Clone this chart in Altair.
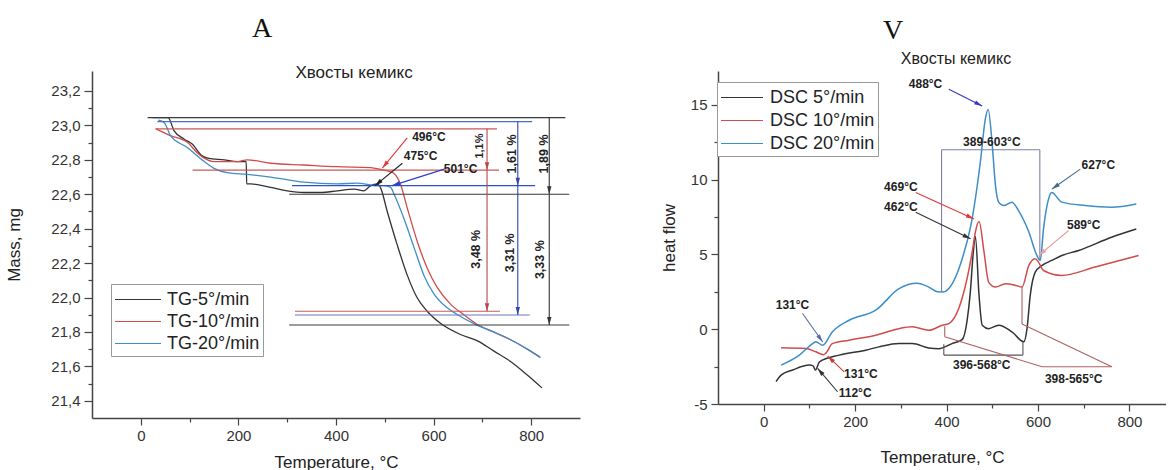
import math
import altair as alt
import pandas as pd

# ---------------- data ----------------
# Panel A : TG curves (Temperature, °C ; Mass, mg)
TG5_T = [24, 56, 68, 89, 106, 123, 137, 171, 198, 216, 217, 225, 266, 300, 334, 368, 403, 437, 457, 471, 485,
         491, 505, 525, 546, 566, 587, 614, 655, 689, 723, 757, 792, 822]
TG5_M = [23.045, 23.045, 22.97, 22.92, 22.89, 22.83, 22.81, 22.80, 22.79, 22.79, 22.66, 22.66, 22.64, 22.62, 22.61,
         22.61, 22.62, 22.63, 22.62, 22.65, 22.66, 22.64, 22.50, 22.31, 22.13, 22.00, 21.92, 21.85, 21.785, 21.75,
         21.69, 21.63, 21.55, 21.475]
TG10_T = [31, 61, 96, 116, 130, 150, 198, 218, 266, 334, 403, 471, 491, 512, 519, 532, 546, 566, 587, 607, 635,
          662, 689, 723, 757, 792, 818]
TG10_M = [22.98, 22.94, 22.90, 22.84, 22.81, 22.79, 22.79, 22.80, 22.78, 22.77, 22.76, 22.755, 22.745, 22.73, 22.72,
          22.66, 22.52, 22.33, 22.17, 22.06, 21.96, 21.90, 21.845, 21.80, 21.756, 21.70, 21.655]
TG20_T = [36, 48, 61, 96, 130, 150, 177, 218, 266, 334, 403, 443, 485, 498, 512, 519, 539, 560, 580, 601, 628,
          655, 689, 723, 757, 792, 819]
TG20_M = [23.03, 23.016, 22.94, 22.87, 22.79, 22.75, 22.725, 22.715, 22.70, 22.67, 22.66, 22.665, 22.65, 22.65,
          22.64, 22.60, 22.46, 22.29, 22.13, 22.02, 21.94, 21.89, 21.84, 21.80, 21.756, 21.70, 21.65]

# Panel V : DSC curves (Temperature, °C ; heat flow)
DSC5_T = [27, 38, 63, 100, 108, 113, 122, 165, 223, 252, 296, 325, 361, 383, 412, 434, 445, 452, 458, 463, 471,
          478, 492, 514, 543, 569, 576, 583, 594, 609, 630, 652, 689, 761, 815]
DSC5_H = [-3.5, -3.07, -2.73, -2.4, -2.45, -2.73, -2.18, -1.73, -1.4, -1.18, -0.96, -0.96, -1.25, -1.3, -0.96,
          -0.7, 0.6, 2.5, 5.0, 6.2, 2.27, 0.27, 0.04, 0.27, -0.18, -0.84, 0.04, 2.27, 3.82, 4.27, 4.6, 4.93, 5.27,
          6.15, 6.7]
DSC10_T = [38, 92, 114, 131, 136, 150, 187, 245, 296, 325, 361, 391, 405, 434, 456, 463, 471, 482, 492, 507, 529,
           551, 565, 580, 594, 601, 612, 652, 725, 820]
DSC10_H = [-1.24, -1.29, -1.51, -1.7, -1.6, -0.96, -0.73, -0.4, 0.04, 0.16, -0.07, 0.27, 0.38, 2.07, 5.15, 6.5,
           7.2, 5.15, 3.15, 2.82, 3.04, 2.93, 2.82, 4.27, 4.71, 4.49, 3.93, 3.6, 4.16, 4.93]
DSC20_T = [38, 78, 107, 114, 129, 150, 187, 245, 296, 335, 361, 380, 391, 405, 434, 456, 474, 485, 491, 500, 507,
           514, 525, 543, 558, 580, 598, 605, 612, 623, 630, 652, 703, 761, 815]
DSC20_H = [-2.4, -1.73, -0.96, -0.84, -1.07, -0.18, 0.6, 1.27, 2.71, 3.07, 2.82, 2.5, 2.49, 2.73, 4.7, 7.4, 11.2,
           14.1, 14.7, 12.3, 9.6, 8.5, 8.27, 8.5, 7.9, 6.5, 4.9, 4.6, 6.7, 8.7, 9.15, 8.5, 8.27, 8.16, 8.38]

TG_NAMES = ["TG-5°/min", "TG-10°/min", "TG-20°/min"]
DSC_NAMES = ["DSC 5°/min", "DSC 10°/min", "DSC 20°/min"]
SERIES_COLORS = ["#333333", "#d24b4b", "#3d8ec8"]

# Axis tick values
A_Y_MAJOR = ["21,4", "21,6", "21,8", "22,0", "22,2", "22,4", "22,6", "22,8", "23,0", "23,2"]
A_Y_TICKS = [21.4, 21.5, 21.6, 21.7, 21.8, 21.9, 22.0, 22.1, 22.2, 22.3, 22.4, 22.5, 22.6, 22.7, 22.8, 22.9,
             23.0, 23.1, 23.2]
X_TICKS = [0, 100, 200, 300, 400, 500, 600, 700, 800]
V_Y_TICKS = [-5, -2.5, 0, 2.5, 5, 7.5, 10, 12.5, 15]

# Panel A reference lines: (x1, y1, x2, y2, colour)
A_LINES = [
    (14, 23.045, 870, 23.045, "#3a3a3a"),
    (34, 23.022, 802, 23.022, "#4a6fc0"),
    (30, 22.98, 730, 22.98, "#c85a5a"),
    (106, 22.74, 734, 22.74, "#c85a5a"),
    (310, 22.65, 808, 22.65, "#3050c8"),
    (304, 22.60, 878, 22.60, "#3a3a3a"),
    (316, 21.92, 736, 21.92, "#c85a5a"),
    (316, 21.898, 797, 21.898, "#6a78c0"),
    (304, 21.84, 878, 21.84, "#3a3a3a"),
]
# Panel A arrows: (x1, y1, x2, y2, colour) head at (x2, y2)
A_ARROWS = [
    (709.5, 22.98, 709.5, 22.74, "#b84848"),
    (709.5, 22.74, 709.5, 21.92, "#b84848"),
    (772.5, 23.022, 772.5, 22.65, "#3346a8"),
    (772.5, 22.65, 772.5, 21.898, "#3346a8"),
    (837, 23.045, 837, 22.60, "#333333"),
    (837, 22.60, 837, 21.84, "#333333"),
    (546, 22.927, 495, 22.752, "#e03a3a"),
    (536, 22.78, 480, 22.65, "#222222"),
    (622, 22.746, 515, 22.65, "#2a40d0"),
]
A_LABELS = [("496°C", 556, 22.93), ("475°C", 539, 22.82), ("501°C", 621, 22.746)]
A_PCT = [("1,1%", 695, 22.88, 11), ("1,61 %", 761, 22.834, 12.5), ("1,89 %", 826, 22.834, 12.5),
         ("3,48 %", 686, 22.28, 12.5), ("3,31 %", 757, 22.26, 12.5), ("3,33 %", 819, 22.22, 12.5)]

# Panel V bracket lines
V_LINES = [
    (389, 12, 604, 12, "#7a80a8"), (389, 12, 389, 2.5, "#7a80a8"), (604, 12, 604, 4.7, "#7a80a8"),
    (394, -1.73, 567, -1.73, "#555555"), (394, -1.0, 394, -1.73, "#555555"), (567, -0.84, 567, -1.73, "#555555"),
    (396, 0.2, 396, -0.5, "#b06060"), (396, -0.5, 609, -2.51, "#b06060"), (609, -2.51, 761.5, -2.51, "#b06060"),
    (761.5, -2.51, 565, 0.35, "#b06060"), (565, 0.35, 565, 2.82, "#b06060"),
]
V_ARROWS = [
    (405, 16.05, 478, 14.93, "#3a3ac0"),
    (692.5, 10.71, 630.6, 9.38, "#3d6e8e"),
    (332.5, 9.15, 460, 7.38, "#e03a3a"),
    (332.5, 7.82, 452.5, 6.05, "#333333"),
    (667, 6.6, 601.5, 4.93, "#e8a0a0"),
    (85, 1.05, 129, -0.85, "#5a6aa8"),
    (176, -2.85, 140, -1.8, "#c04040"),
    (161.5, -4.18, 118, -2.62, "#333333"),
]
V_LABELS = [("488°C", 354, 16.38), ("627°C", 732, 11.0), ("469°C", 300, 9.49), ("462°C", 300, 8.15),
            ("589°C", 700, 6.98), ("389-603°C", 499, 12.49), ("396-568°C", 477, -2.4),
            ("398-565°C", 678, -3.33), ("131°C", 63, 1.6), ("131°C", 212.5, -3.02), ("112°C", 200, -4.25)]

SUBTITLE = "Хвосты кемикс"

# ---------------- layout ----------------
A_XD, A_YD = [-100, 900], [21.3, 23.316]
V_XD, V_YD = [-100, 880], [-5, 17.27]
AW, AH = 488, 347
VW, VH = 448, 333
FONT = "Liberation Sans"
HEAD = "M0,-1L0.55,1L-0.55,1Z"
HEAD_SIZE = 64


def curves(names, Ts, Vs):
    rows = []
    for n, T, V in zip(names, Ts, Vs):
        for i, (t, v) in enumerate(zip(T, V)):
            rows.append({"series": n, "T": t, "v": v, "i": i})
    return pd.DataFrame(rows)


def segs(lst):
    return pd.DataFrame([{"x": a, "y": b, "x2": c, "y2": d, "c": col} for a, b, c, d, col in lst])


def heads(arrows, sx, sy):
    r = math.sqrt(HEAD_SIZE) / 2
    rows = []
    for x1, y1, x2, y2, col in arrows:
        dxp = (x2 - x1) * sx
        dyp = (y2 - y1) * sy
        L = math.hypot(dxp, dyp)
        ang = math.degrees(math.atan2(dxp, dyp)) % 360
        rows.append({"x": x2 - r * dxp / L / sx, "y": y2 - r * dyp / L / sy, "a": ang, "c": col})
    return pd.DataFrame(rows)


def panel(df, names, xd, yd, w, h, xaxis, yaxis, legend, lines, arrows, labels, extra_layers, sw):
    xs = alt.Scale(domain=xd, nice=False, zero=False)
    ys = alt.Scale(domain=yd, nice=False, zero=False)
    sx = w / (xd[1] - xd[0])
    sy = h / (yd[1] - yd[0])
    base_line = alt.Chart(df).mark_line(strokeWidth=sw, interpolate="monotone").encode(
        x=alt.X("T:Q", scale=xs, axis=xaxis),
        y=alt.Y("v:Q", scale=ys, axis=yaxis),
        color=alt.Color("series:N", scale=alt.Scale(domain=names, range=SERIES_COLORS), legend=legend),
        order="i:Q",
    )
    allsegs = segs(lines + arrows)
    rules = alt.Chart(allsegs).mark_rule(strokeWidth=1.1).encode(
        x=alt.X("x:Q", scale=xs), x2="x2:Q", y=alt.Y("y:Q", scale=ys), y2="y2:Q",
        stroke=alt.Stroke("c:N", scale=None),
    )
    hd = alt.Chart(heads(arrows, sx, sy)).mark_point(shape=HEAD, filled=True, opacity=1, size=HEAD_SIZE,
                                                     strokeWidth=0).encode(
        x=alt.X("x:Q", scale=xs), y=alt.Y("y:Q", scale=ys),
        fill=alt.Fill("c:N", scale=None), angle=alt.Angle("a:Q", scale=None),
    )
    lab = alt.Chart(pd.DataFrame([{"t": t, "x": x, "y": y} for t, x, y in labels[0]])).mark_text(
        font=FONT, fontSize=12, fontWeight="bold", color="#222", align=labels[1]).encode(
        x=alt.X("x:Q", scale=xs), y=alt.Y("y:Q", scale=ys), text="t:N")
    return alt.layer(base_line, rules, hd, lab, *[e(xs, ys) for e in extra_layers]).properties(width=w, height=h)


COMMON_AX = dict(titleFontSize=17, titleFontWeight="normal", labelFontSize=15, grid=False, domainColor="#444",
                 tickColor="#444", labelColor="#333", titleColor="#222", domainWidth=1.5, tickWidth=1.2,
                 labelFont=FONT, titleFont=FONT, labelOverlap=False, tickCount=50)


def axis_x(tpad):
    return alt.Axis(values=X_TICKS,
                    labelExpr="datum.value % 200 == 0 ? '' + datum.value : ''",
                    tickSize={"condition": {"test": "datum.value % 200 != 0", "value": 4}, "value": 7},
                    title="Temperature, °C", labelPadding=3, titlePadding=tpad, **COMMON_AX)


A_yaxis = alt.Axis(values=A_Y_TICKS,
                   labelExpr="indexof(" + str(A_Y_MAJOR) + ", replace(format(datum.value, '.1f'), '.', ',')) >= 0"
                             " ? replace(format(datum.value, '.1f'), '.', ',') : ''",
                   tickSize={"condition": {"test": "indexof(" + str(A_Y_MAJOR) +
                                                   ", replace(format(datum.value, '.1f'), '.', ',')) < 0",
                                           "value": 4}, "value": 8},
                   title="Mass, mg", labelPadding=4, titlePadding=27, **COMMON_AX)
V_yaxis = alt.Axis(values=V_Y_TICKS,
                   labelExpr="datum.value % 5 == 0 ? '' + datum.value : ''",
                   tickSize={"condition": {"test": "datum.value % 5 != 0", "value": 4}, "value": 7},
                   title="heat flow", labelPadding=4, titlePadding=12, **COMMON_AX)


def legend(lx, ly, path, rowpad, off):
    return alt.Legend(title=None, orient="none", legendX=lx, legendY=ly, symbolType=path, symbolSize=529,
                      symbolStrokeWidth=1.1, labelFontSize=18, labelFont=FONT, labelColor="#222",
                      labelOffset=off, strokeColor="#999", fillColor="white", padding=3, rowPadding=rowpad)


def pct_layer(xs, ys):
    d = pd.DataFrame([{"t": t, "x": x, "y": y, "s": s} for t, x, y, s in A_PCT])
    return alt.Chart(d).mark_text(font=FONT, fontWeight="bold", angle=270, color="#222").encode(
        x=alt.X("x:Q", scale=xs), y=alt.Y("y:Q", scale=ys), text="t:N",
        size=alt.Size("s:Q", scale=None))


def sub_layer(x, y, fs):
    def f(xs, ys):
        return alt.Chart(pd.DataFrame([{"t": SUBTITLE, "x": x, "y": y}])).mark_text(
            font=FONT, fontSize=fs, color="#222").encode(
            x=alt.X("x:Q", scale=xs), y=alt.Y("y:Q", scale=ys), text="t:N")
    return f


A = panel(curves(TG_NAMES, [TG5_T, TG10_T, TG20_T], [TG5_M, TG10_M, TG20_M]), TG_NAMES, A_XD, A_YD, AW, AH,
          axis_x(11), A_yaxis, legend(19, 213, "M-1,0L3,0", 0, 28), A_LINES, A_ARROWS, (A_LABELS, "left"),
          [pct_layer, sub_layer(437, 23.304, 17)], 1.3).properties(
    title=alt.TitleParams("A", font="Liberation Serif", fontSize=28, fontWeight="normal", color="#111",
                          anchor="middle", dx=-74, offset=21))

V = panel(curves(DSC_NAMES, [DSC5_T, DSC10_T, DSC20_T], [DSC5_H, DSC10_H, DSC20_H]), DSC_NAMES, V_XD, V_YD,
          VW, VH, axis_x(20), V_yaxis, legend(-1, 11, "M-1,0L2.65,0", 1, 25), V_LINES, V_ARROWS,
          (V_LABELS, "center"), [sub_layer(420.5, 18.07, 16)], 1.5).properties(
    title=alt.TitleParams("V", font="Liberation Serif", fontSize=28, fontWeight="normal", color="#111",
                          anchor="middle", dx=-49, offset=6))

chart = alt.hconcat(A, V, spacing=80).resolve_scale(color="independent").properties(
    padding={"left": 5, "top": 15, "right": 0, "bottom": 0}
).configure(font=FONT).configure_view(stroke=None).configure_axis(labelOverlap=False)

chart.save("out.html", embed_options={"renderer": "svg", "actions": False})
